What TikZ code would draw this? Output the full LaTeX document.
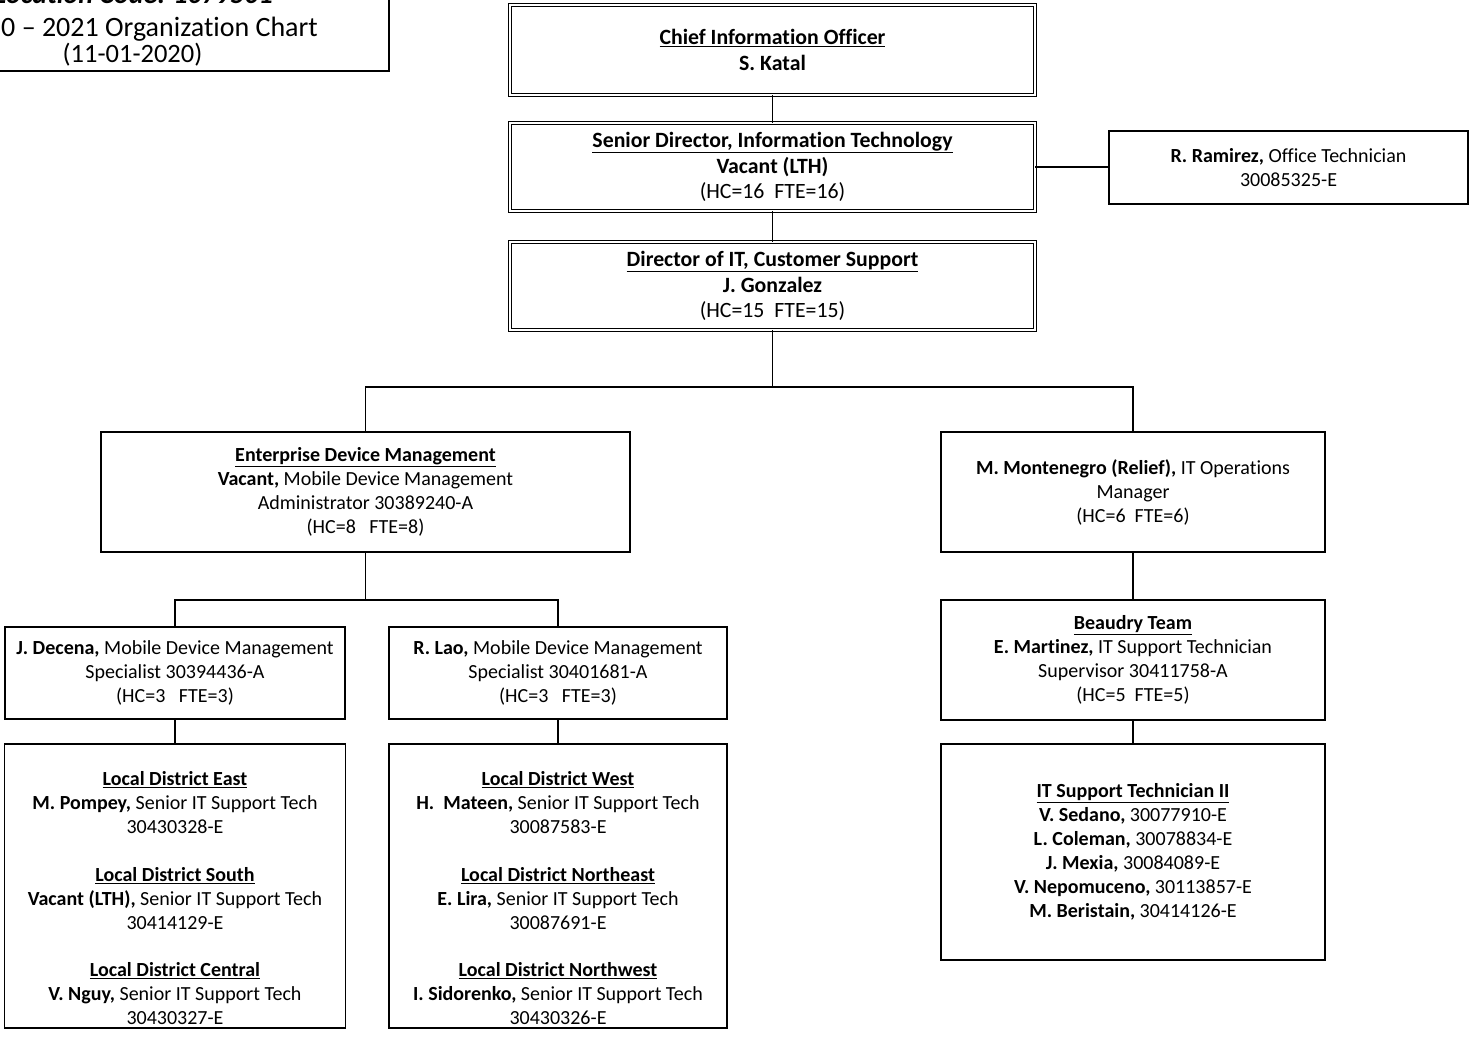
\documentclass[tikz,border=0pt]{standalone}
\usepackage{fontspec}
\setmainfont{Carlito}[Ligatures=CommonOff]
\newcommand{\ft}{\fontsize{20}{24}\selectfont}
\newcommand{\fb}{\fontsize{21.8}{25.6}\selectfont}
\newcommand{\fh}{\fontsize{26.5}{30}\selectfont}
\newcommand{\fhb}{\fontsize{28}{30}\selectfont}
\newcommand{\ul}[1]{\underline{#1}}
\tikzset{
  box/.style={draw, line width=1.7pt, align=center, inner sep=0pt, outer sep=0pt, font=\ft},
  dbox/.style={draw, double, double distance=2.4pt, line width=1.2pt, align=center, inner sep=0pt, outer sep=0pt, font=\fb},
  txt/.style={align=center, inner sep=0pt, font=\ft},
  conn/.style={line width=1.6pt}
}
\begin{document}
\begin{tikzpicture}[x=1pt,y=-1pt]
\useasboundingbox (0,0) rectangle (1469,1058);
\clip (0,0) rectangle (1469,1058);
\fill[white] (0,0) rectangle (1469,1058);

% header box (cut by the page edge)
\node[box, minimum width=589pt, minimum height=121pt] (hdr) at (94.5,10.5) {};
\node[anchor=base east, inner sep=0pt, font=\fhb\bfseries\itshape] (hdr1) at (273,3) {Location Code: 1079501};
\node[anchor=base east, inner sep=0pt, font=\fhb] (hdr2) at (318,36) {2020 – 2021 Organization Chart};
\node[anchor=base, inner sep=0pt, font=\fh] (hdr3) at (132.5,62) {(11-01-2020)};

% top chain
\node[dbox, minimum width=525pt, minimum height=90pt] (cio) at (772.5,50)
  {\textbf{\ul{Chief Information Officer}}\\ \textbf{S. Katal}};
\node[dbox, minimum width=525pt, minimum height=88pt] (sd) at (772.5,167)
  {\textbf{\ul{Senior Director, Information Technology}}\\ \textbf{Vacant (LTH)}\\ (HC=16\ \ FTE=16)};
\node[dbox, minimum width=525pt, minimum height=88pt] (dir) at (772.5,286)
  {\textbf{\ul{Director of IT, Customer Support}}\\ \textbf{J. Gonzalez}\\ (HC=15\ \ FTE=15)};
\node[box, minimum width=359pt, minimum height=73pt] (ram) at (1288.5,167.5)
  {\textbf{R. Ramirez,} Office Technician\\ 30085325-E};

% second level
\node[box, minimum width=529pt, minimum height=120pt] (edm) at (365.5,492)
  {\textbf{\ul{Enterprise Device Management}}\\ \textbf{Vacant,} Mobile Device Management\\ Administrator 30389240-A\\ (HC=8\ \ \ FTE=8)};
\node[box, minimum width=384pt, minimum height=120pt] (mon) at (1133,492)
  {\textbf{M. Montenegro (Relief),} IT Operations\\ Manager\\ (HC=6\ \ FTE=6)};

% third level
\node[box, minimum width=340pt, minimum height=92pt] (dec) at (175,673)
  {\textbf{J. Decena,} Mobile Device Management\\ Specialist 30394436-A\\ (HC=3\ \ \ FTE=3)};
\node[box, minimum width=338pt, minimum height=92pt] (lao) at (558,673)
  {\textbf{R. Lao,} Mobile Device Management\\ Specialist 30401681-A\\ (HC=3\ \ \ FTE=3)};
\node[box, minimum width=384pt, minimum height=120pt] (bea) at (1133,660)
  {\textbf{\ul{Beaudry Team}}\\ \textbf{E. Martinez,} IT Support Technician\\ Supervisor 30411758-A\\ (HC=5\ \ FTE=5)};

% fourth level
\node[box, minimum width=341pt, minimum height=284pt] (east) at (175,886) {};
\node[txt] (eastt) at (175,898.5)
  {\textbf{\ul{Local District East}}\\ \textbf{M. Pompey,} Senior IT Support Tech\\ 30430328-E\\[23.5pt]
   \textbf{\ul{Local District South}}\\ \textbf{Vacant (LTH),} Senior IT Support Tech\\ 30414129-E\\[23.5pt]
   \textbf{\ul{Local District Central}}\\ \textbf{V. Nguy,} Senior IT Support Tech\\ 30430327-E};
\node[box, minimum width=338pt, minimum height=284pt] (west) at (558,886) {};
\node[txt] (westt) at (558,898.5)
  {\textbf{\ul{Local District West}}\\ \textbf{H.\ \ Mateen,} Senior IT Support Tech\\ 30087583-E\\[23.5pt]
   \textbf{\ul{Local District Northeast}}\\ \textbf{E. Lira,} Senior IT Support Tech\\ 30087691-E\\[23.5pt]
   \textbf{\ul{Local District Northwest}}\\ \textbf{I. Sidorenko,} Senior IT Support Tech\\ 30430326-E};
\node[box, minimum width=384pt, minimum height=216pt] (it2) at (1133,852)
  {\textbf{\ul{IT Support Technician II}}\\ \textbf{V. Sedano,} 30077910-E\\ \textbf{L. Coleman,} 30078834-E\\
   \textbf{J. Mexia,} 30084089-E\\ \textbf{V. Nepomuceno,} 30113857-E\\ \textbf{M. Beristain,} 30414126-E};

% connectors
\coordinate (bus1) at (772.5,387);
\coordinate (bus2) at (365.5,600);
\draw[conn] (cio.south) -- (sd.north);
\draw[conn] (sd.south) -- (dir.north);
\draw[conn] (sd.east) -- (sd.east -| ram.west);
\draw[conn] (dir.south) -- (bus1);
\draw[conn] (edm.north) |- (mon.north |- bus1) -- (mon.north);
\draw[conn] (edm.south) -- (bus2);
\draw[conn] (dec.north) |- (lao.north |- bus2) -- (lao.north);
\draw[conn] (mon.south) -- (bea.north);
\draw[conn] (bea.south) -- (it2.north);
\draw[conn] (dec.south) -- (east.north);
\draw[conn] (lao.south) -- (west.north);
\end{tikzpicture}
\end{document}
